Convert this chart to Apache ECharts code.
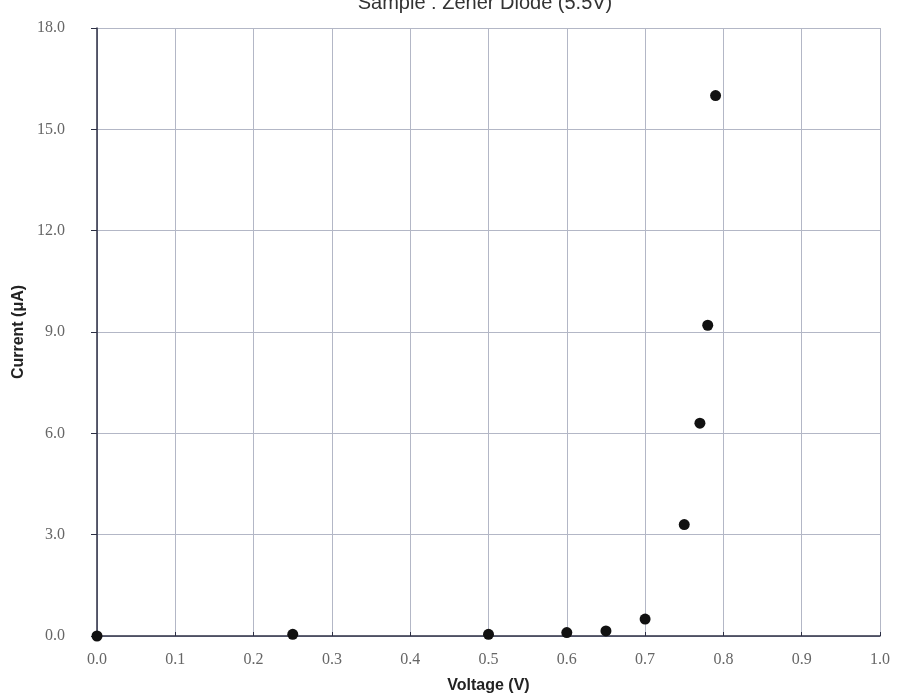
<!DOCTYPE html>
<html>
<head>
<meta charset="utf-8">
<script src="https://cdn.jsdelivr.net/npm/echarts@6/dist/echarts.min.js"></script>
<style>
  html, body { margin: 0; padding: 0; background: #fff; }
  #chart { width: 899px; height: 700px; }
</style>
</head>
<body>
<div id="chart"></div>
<script>
// measured points: voltage (V) vs current (uA)
const voltage = [0.0, 0.25, 0.5, 0.6, 0.65, 0.7, 0.75, 0.77, 0.78, 0.79]
const current = [0.0, 0.05, 0.05, 0.1, 0.15, 0.5, 3.3, 6.3, 9.2, 16.0]

const chart = echarts.init(document.getElementById('chart'))

const serif = '"Liberation Serif", "DejaVu Serif", serif'
const sans = '"Liberation Sans", Arial, sans-serif'

chart.setOption({
  backgroundColor: '#fff',
  animation: false,
  title: {
    text: 'Sample : Zener Diode (5.5V)',
    left: 480,
    textAlign: 'center',
    top: -12,
    textStyle: { fontFamily: sans, fontSize: 20, fontWeight: 'normal', color: '#333' }
  },
  grid: {
    left: 97,
    right: 19,
    top: 28,
    bottom: 64
  },
  xAxis: {
    type: 'value',
    min: 0,
    max: 1,
    interval: 0.1,
    name: 'Voltage (V)',
    nameLocation: 'middle',
    nameGap: 42,
    nameTextStyle: { fontFamily: sans, fontSize: 16, fontWeight: 'bold', color: '#222' },
    axisLine: { lineStyle: { color: '#2c2f44', width: 1.5 } },
    axisTick: { show: true, inside: true, length: 4, lineStyle: { color: '#2c2f44' } },
    axisLabel: {
      margin: 16,
      fontFamily: serif,
      fontSize: 16,
      color: '#666',
      formatter: v => v.toFixed(1)
    },
    splitLine: { show: true, lineStyle: { color: '#b3b7c6', width: 1 } }
  },
  yAxis: {
    type: 'value',
    min: 0,
    max: 18,
    interval: 3,
    name: 'Current (μA)',
    nameLocation: 'middle',
    nameGap: 68,
    nameTextStyle: { fontFamily: sans, fontSize: 16, fontWeight: 'bold', color: '#222' },
    axisLine: { show: true, lineStyle: { color: '#2c2f44', width: 1.5 } },
    axisTick: { show: true, length: 6, lineStyle: { color: '#2c2f44' } },
    axisLabel: {
      margin: 32,
      fontFamily: serif,
      fontSize: 16,
      color: '#666',
      formatter: v => v.toFixed(1)
    },
    splitLine: { show: true, lineStyle: { color: '#b3b7c6', width: 1 } }
  },
  series: [
    {
      name: 'Current',
      type: 'scatter',
      symbol: 'circle',
      symbolSize: 11,
      itemStyle: { color: '#111', opacity: 1 },
      data: voltage.map((v, i) => [v, current[i]])
    }
  ]
})
</script>
</body>
</html>
